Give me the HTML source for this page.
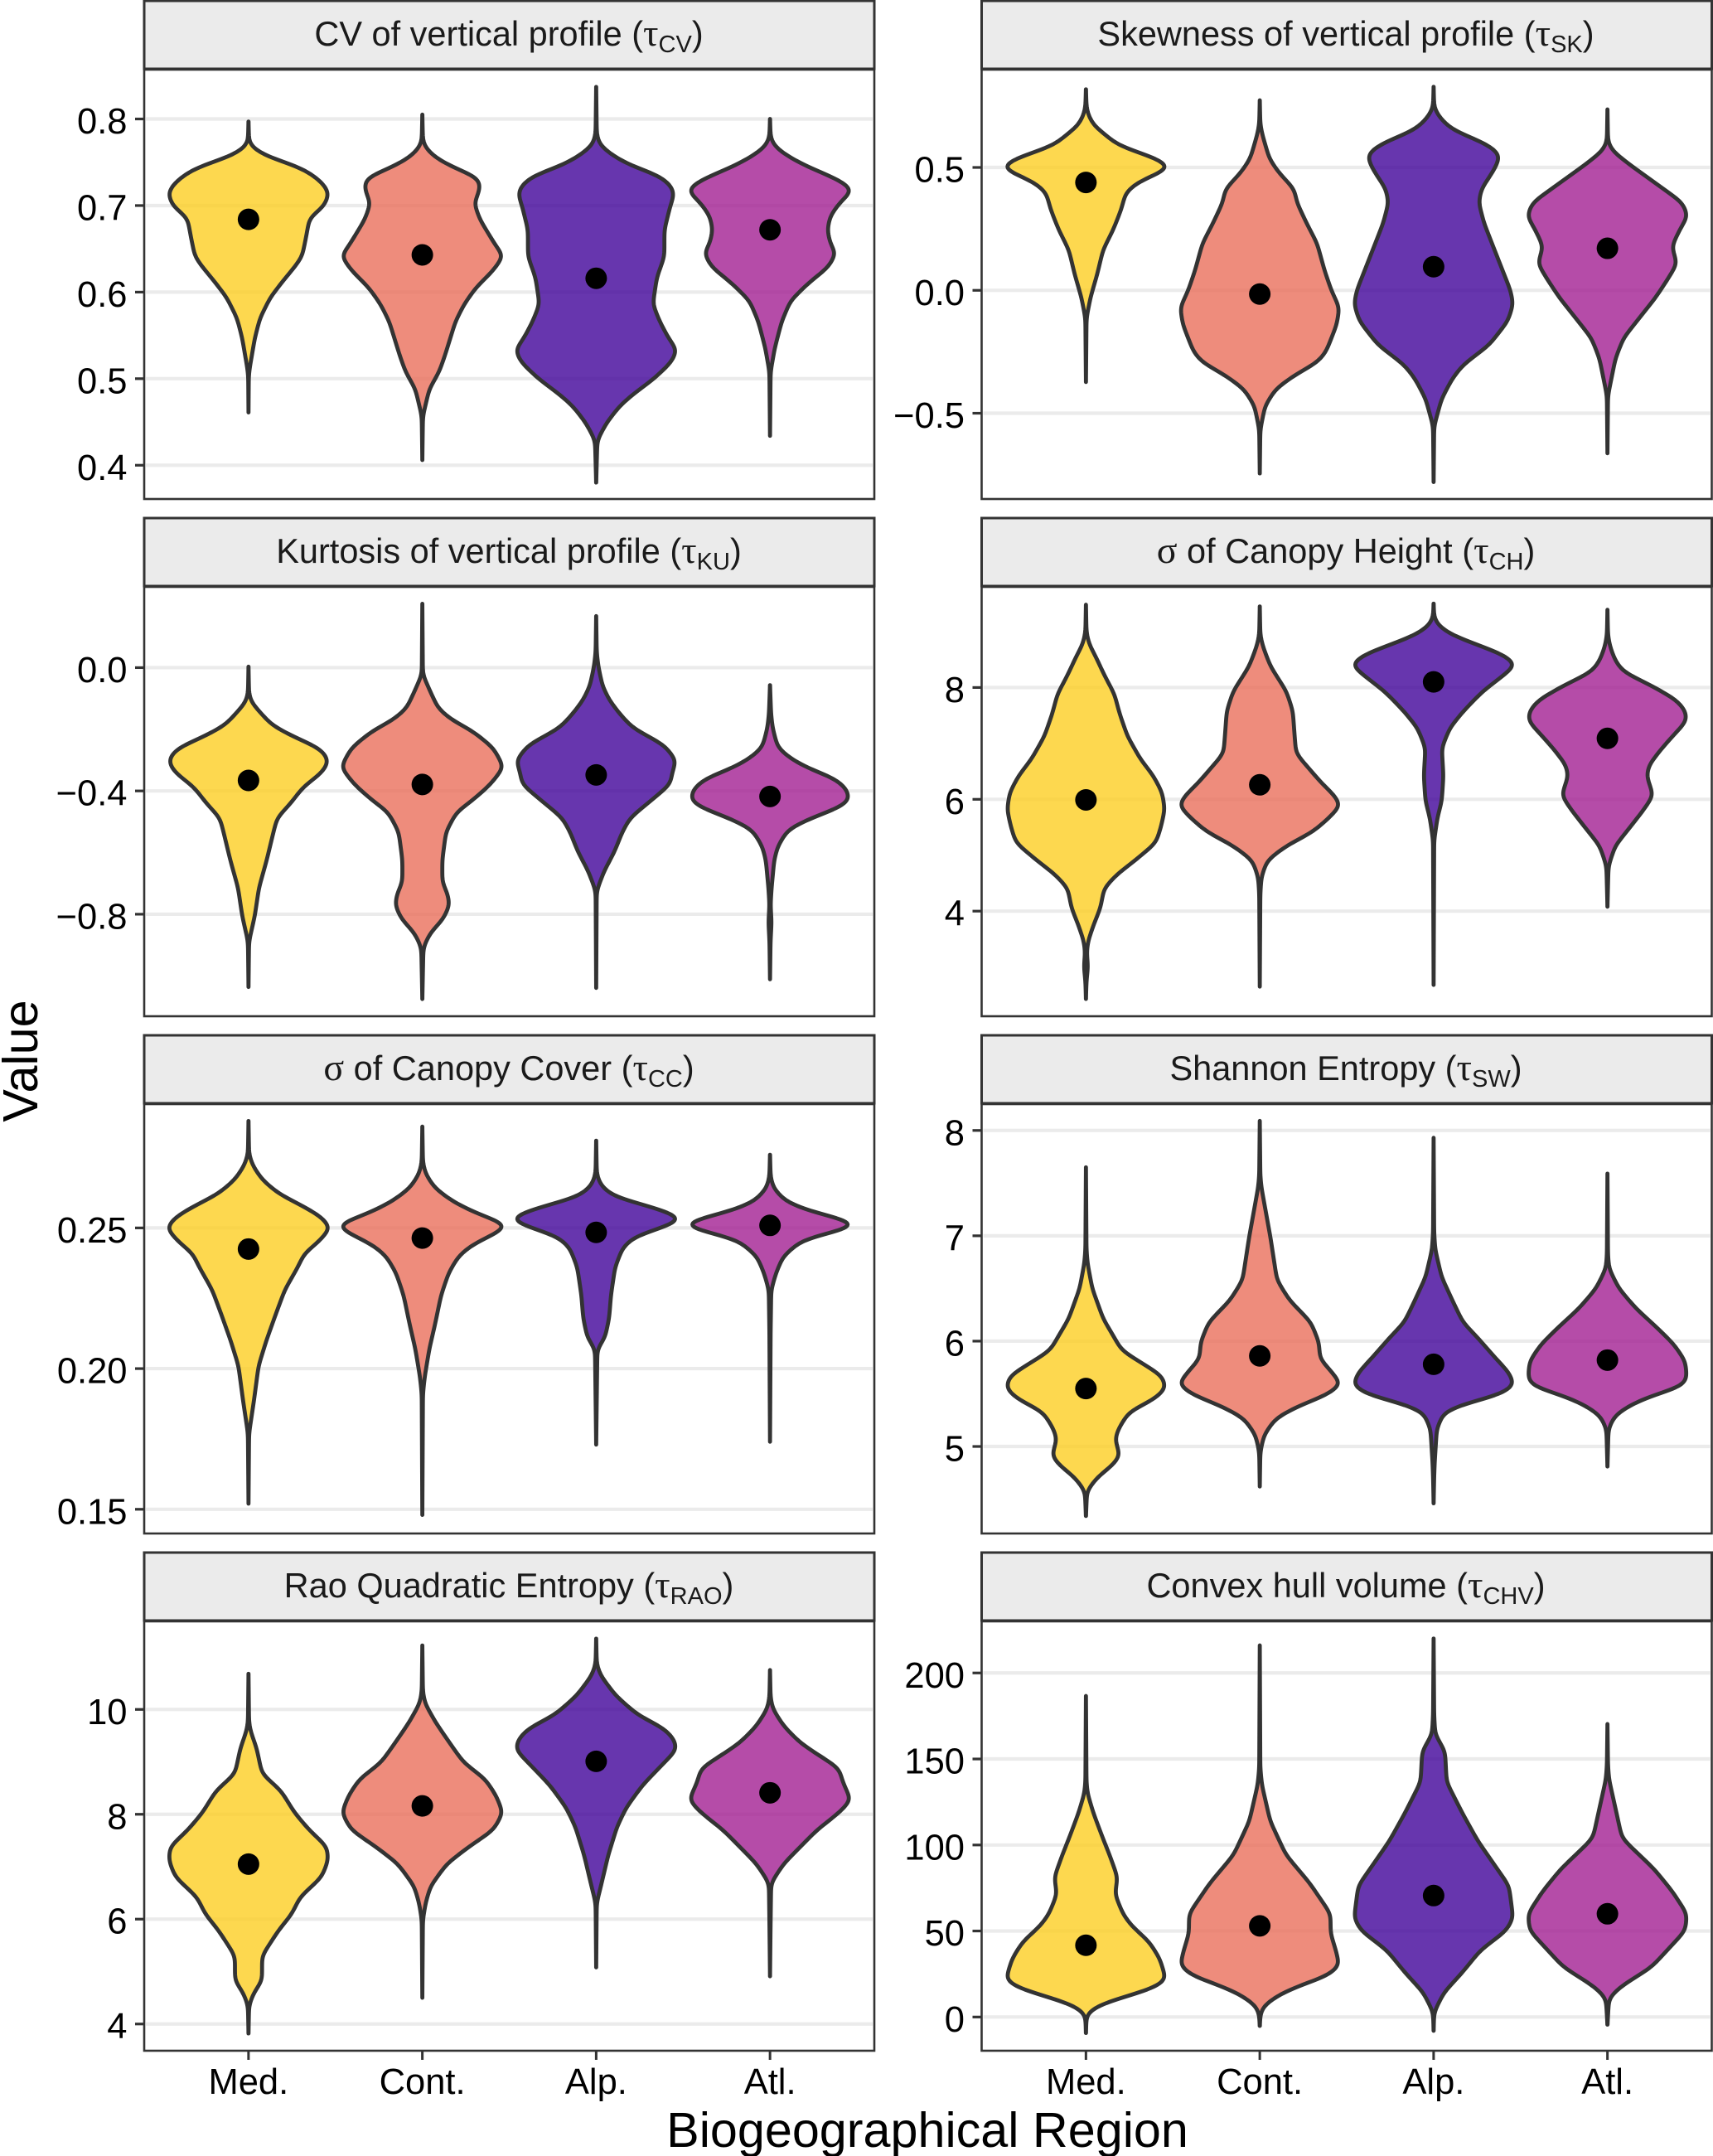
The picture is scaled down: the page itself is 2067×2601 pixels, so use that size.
<!DOCTYPE html>
<html>
<head>
<meta charset="utf-8">
<title>Biogeographical violin panels</title>
<style>
html,body{margin:0;padding:0;background:#fff;}
svg{display:block;font-family:"Liberation Sans",sans-serif;}
.strip-title{font-size:41.5px;text-anchor:middle;fill:#1a1a1a;}
.sym{font-family:"Liberation Serif",serif;font-size:46px;}
.sub{font-size:29px;}
</style>
</head>
<body>
<svg id="chart" xmlns="http://www.w3.org/2000/svg" width="2067" height="2601" viewBox="0 0 2067 2601">
  <rect x="0" y="0" width="2067" height="2601" fill="#fff"/>

  <g>
    <rect x="174" y="1" width="881" height="82" fill="#ebebeb" stroke="#333" stroke-width="3"/>
    <text class="strip-title" x="614" y="55">CV of vertical profile (<tspan class="sym">τ</tspan><tspan class="sub" dy="8">CV</tspan><tspan dy="-8">)</tspan></text>
  </g>
  <g>
    <rect x="1184.5" y="1" width="881" height="82" fill="#ebebeb" stroke="#333" stroke-width="3"/>
    <text class="strip-title" x="1624" y="55">Skewness of vertical profile (<tspan class="sym">τ</tspan><tspan class="sub" dy="8">SK</tspan><tspan dy="-8">)</tspan></text>
  </g>
  <g>
    <rect x="174" y="625" width="881" height="82" fill="#ebebeb" stroke="#333" stroke-width="3"/>
    <text class="strip-title" x="614" y="679">Kurtosis of vertical profile (<tspan class="sym">τ</tspan><tspan class="sub" dy="8">KU</tspan><tspan dy="-8">)</tspan></text>
  </g>
  <g>
    <rect x="1184.5" y="625" width="881" height="82" fill="#ebebeb" stroke="#333" stroke-width="3"/>
    <text class="strip-title" x="1624" y="679"><tspan class="sym">σ</tspan> of Canopy Height (<tspan class="sym">τ</tspan><tspan class="sub" dy="8">CH</tspan><tspan dy="-8">)</tspan></text>
  </g>
  <g>
    <rect x="174" y="1249" width="881" height="82" fill="#ebebeb" stroke="#333" stroke-width="3"/>
    <text class="strip-title" x="614" y="1303"><tspan class="sym">σ</tspan> of Canopy Cover (<tspan class="sym">τ</tspan><tspan class="sub" dy="8">CC</tspan><tspan dy="-8">)</tspan></text>
  </g>
  <g>
    <rect x="1184.5" y="1249" width="881" height="82" fill="#ebebeb" stroke="#333" stroke-width="3"/>
    <text class="strip-title" x="1624" y="1303">Shannon Entropy (<tspan class="sym">τ</tspan><tspan class="sub" dy="8">SW</tspan><tspan dy="-8">)</tspan></text>
  </g>
  <g>
    <rect x="174" y="1873" width="881" height="82" fill="#ebebeb" stroke="#333" stroke-width="3"/>
    <text class="strip-title" x="614" y="1927">Rao Quadratic Entropy (<tspan class="sym">τ</tspan><tspan class="sub" dy="8">RAO</tspan><tspan dy="-8">)</tspan></text>
  </g>
  <g>
    <rect x="1184.5" y="1873" width="881" height="82" fill="#ebebeb" stroke="#333" stroke-width="3"/>
    <text class="strip-title" x="1624" y="1927">Convex hull volume (<tspan class="sym">τ</tspan><tspan class="sub" dy="8">CHV</tspan><tspan dy="-8">)</tspan></text>
  </g>

  <text x="1119" y="2590" font-size="59.3" text-anchor="middle" fill="#000">Biogeographical Region</text>
  <text transform="translate(45 1280) rotate(-90)" font-size="59.3" text-anchor="middle" fill="#000">Value</text>
  <g id="panels"></g>
</svg>

<script>
const categories = ["Med.", "Cont.", "Alp.", "Atl."];
const regionColors = ["rgb(253,206,35)", "rgb(234,111,91)", "rgb(65,4,154)", "rgb(163,31,146)"];

/* ---------- CV of vertical profile ---------- */
const cvDomain = [0.361, 0.857];
const cvTicks = [0.4, 0.5, 0.6, 0.7, 0.8];
const cvTickLabels = ["0.4", "0.5", "0.6", "0.7", "0.8"];
const cvMeans = [0.684, 0.643, 0.616, 0.672];
const cvValues = [
  [.797,.772,.764,.756,.744,.735,.725,.714,.699,.686,.664,.641,.629,.613,.594,.570,.547,.512,.504,.461],
  [.805,.774,.766,.754,.742,.733,.723,.713,.703,.684,.664,.652,.642,.625,.605,.586,.566,.527,.508,.488,.457,.406],
  [.837,.782,.770,.758,.746,.735,.723,.713,.699,.672,.641,.617,.586,.566,.547,.533,.519,.500,.480,.468,.449,.429,.380],
  [.800,.778,.768,.758,.746,.735,.723,.716,.704,.688,.672,.656,.645,.629,.610,.590,.566,.535,.508,.434]
];
const cvDensity = [
  [0,1,12,35,90,112,130,140,131,106,100,93,80,60,38,20,11,2,.5,0],
  [0,1,6,25,60,95,100,96,89,99,117,128,140,122,92,72,57,39,29,12,1,0],
  [0,1,6,28,60,108,130,135,128,118,118,105,98,110,125,140,130,100,60,40,18,2,0],
  [0,1,8,28,60,100,135,140,120,103,98,103,113,100,65,35,20,8,1,0]
];

/* ---------- Skewness of vertical profile ---------- */
const skDomain = [-0.849, 0.898];
const skTicks = [-0.5, 0, 0.5];
const skTickLabels = ["\u22120.5", "0.0", "0.5"];
const skMeans = [0.439, -0.015, 0.096, 0.171];
const skValues = [
  [.818,.742,.708,.667,.632,.591,.563,.536,.500,.474,.439,.398,.329,.247,.164,.067,-.029,-.112,-.373],
  [.773,.674,.632,.536,.481,.412,.357,.274,.191,.081,-.001,-.070,-.139,-.249,-.291,-.346,-.401,-.470,-.566,-.745],
  [.828,.742,.701,.653,.605,.570,.543,.494,.412,.357,.274,.191,.081,-.001,-.056,-.125,-.222,-.304,-.360,-.442,-.552,-.780],
  [.736,.605,.570,.522,.467,.412,.357,.302,.247,.178,.109,.054,-.029,-.125,-.194,-.277,-.428,-.663]
];
const skDensity = [
  [0,1,5,15,35,55,90,125,150,125,90,70,62,48,30,20,8,1,0],
  [0,1,5,18,35,65,70,88,108,122,135,150,145,125,110,65,30,10,1,0],
  [0,1,12,35,90,118,125,115,90,85,95,110,130,145,150,140,105,55,35,15,1,0],
  [0,1,8,35,70,105,140,150,135,120,130,115,90,55,30,15,1,0]
];

/* ---------- Kurtosis of vertical profile ---------- */
const kuDomain = [-1.131, 0.262];
const kuTicks = [-0.8, -0.4, 0];
const kuTickLabels = ["\u22120.8", "\u22120.4", "0.0"];
const kuMeans = [-0.366, -0.379, -0.348, -0.418];
const kuValues = [
  [.003,-.087,-.114,-.150,-.187,-.223,-.260,-.287,-.310,-.342,-.387,-.442,-.487,-.533,-.624,-.715,-.806,-.888,-1.036],
  [.207,-.023,-.077,-.132,-.169,-.205,-.260,-.323,-.378,-.424,-.469,-.533,-.624,-.697,-.733,-.770,-.815,-.861,-.907,-1.075],
  [.167,.050,.005,-.059,-.105,-.150,-.196,-.251,-.301,-.342,-.378,-.424,-.487,-.533,-.597,-.661,-.724,-1.039],
  [-.057,-.150,-.196,-.260,-.296,-.328,-.360,-.396,-.433,-.456,-.487,-.524,-.579,-.624,-.715,-.770,-.825,-.888,-1.011]
];
const kuDensity = [
  [0,1,6,25,45,85,135,150,153,140,105,80,55,48,35,20,12,1,0],
  [0,1,15,30,55,95,135,155,130,100,65,45,38,38,48,52,40,15,2,0],
  [0,1,4,12,25,45,70,130,153,145,142,110,65,50,35,15,1,0],
  [0,2,5,15,40,75,125,148,152,130,80,35,15,8,3,1,3,1,0]
];

/* ---------- Canopy height ---------- */
const chDomain = [2.12, 9.80];
const chTicks = [4, 6, 8];
const chTickLabels = ["4", "6", "8"];
const chMeans = [5.99, 6.26, 8.10, 7.09];
const chValues = [
  [9.48,8.98,8.78,8.53,8.23,7.88,7.53,7.13,6.72,6.42,6.12,5.82,5.52,5.22,4.91,4.66,4.41,4.06,3.76,3.46,3.26,3.01,2.75,2.43],
  [9.45,8.93,8.73,8.38,7.93,7.58,7.18,6.82,6.52,6.27,6.07,5.89,5.67,5.42,5.17,4.91,4.61,4.31,2.65],
  [9.50,9.24,9.09,8.93,8.73,8.58,8.41,8.23,7.93,7.58,7.28,6.92,6.42,5.97,5.67,5.27,2.68],
  [9.39,8.93,8.73,8.48,8.28,8.03,7.78,7.58,7.40,7.18,6.92,6.62,6.42,6.07,5.82,5.52,5.17,4.81,4.46,4.08]
];
const chDensity = [
  [0,1,6,20,35,55,65,80,105,130,147,152,145,135,95,60,35,28,15,4,1.5,4,1,0],
  [0,1,6,20,50,62,65,68,95,118,140,152,130,100,50,14,3,1,0],
  [0,1,10,35,90,130,152,130,90,55,30,15,18,15,7,1,0],
  [0,1,5,15,30,85,132,150,152,130,105,80,75,88,70,45,15,2,1,0]
];

/* ---------- Canopy cover ---------- */
const ccDomain = [0.1414, 0.294];
const ccTicks = [0.15, 0.20, 0.25];
const ccTickLabels = ["0.15", "0.20", "0.25"];
const ccMeans = [0.2425, 0.2464, 0.2484, 0.2509];
const ccValues = [
  [.288,.276,.272,.267,.262,.258,.254,.250,.245,.241,.236,.228,.220,.210,.201,.189,.177,.152],
  [.286,.273,.269,.264,.259,.255,.252,.251,.248,.244,.240,.234,.226,.216,.207,.197,.191,.148],
  [.281,.269,.265,.261,.258,.255,.253,.250,.247,.243,.236,.226,.218,.211,.207,.173],
  [.276,.268,.264,.259,.255,.253,.251,.249,.246,.240,.234,.228,.213,.174]
];
const ccDensity = [
  [0,1,8,25,55,95,130,147,125,100,88,65,50,32,18,10,1,0],
  [0,1,6,22,55,95,135,148,125,85,62,45,32,22,12,4,1,0],
  [0,1,8,30,85,130,148,110,65,45,32,25,22,15,2,0],
  [0,1,6,28,80,125,147,115,55,22,10,2,1,0]
];

/* ---------- Shannon entropy ---------- */
const swDomain = [4.174, 8.25];
const swTicks = [5, 6, 7, 8];
const swTickLabels = ["5", "6", "7", "8"];
const swMeans = [5.55, 5.86, 5.78, 5.82];
const swValues = [
  [7.65,6.87,6.74,6.50,6.21,6.05,5.91,5.78,5.67,5.55,5.45,5.33,5.17,5.07,4.91,4.82,4.71,4.58,4.34],
  [8.09,7.57,7.46,6.98,6.58,6.39,6.18,5.99,5.83,5.73,5.59,5.49,5.38,5.27,5.11,4.95,4.62],
  [7.93,7.03,6.87,6.61,6.39,6.18,6.02,5.83,5.70,5.58,5.49,5.41,5.33,5.17,4.85,4.71,4.46],
  [7.59,6.82,6.69,6.50,6.31,6.13,5.97,5.81,5.65,5.57,5.49,5.41,5.30,5.17,4.81]
];
const swDensity = [
  [0,1,3,12,33,52,68,110,145,152,130,82,62,55,65,50,22,2,0],
  [0,1,3,20,32,55,95,110,112,130,152,125,70,30,8,1,0],
  [0,1,3,15,35,55,85,118,142,152,125,60,20,6,2,1,0],
  [0,1,3,22,55,95,128,150,153,145,90,50,15,2,0]
];

/* ---------- Rao quadratic entropy ---------- */
const raoDomain = [3.49, 11.68];
const raoTicks = [4, 6, 8, 10];
const raoTickLabels = ["4", "6", "8", "10"];
const raoMeans = [7.05, 8.16, 9.01, 8.41];
const raoValues = [
  [10.68,9.74,9.58,9.26,8.77,8.45,8.03,7.70,7.38,7.12,6.80,6.42,6.10,5.78,5.30,4.82,4.60,4.36,3.82],
  [11.22,10.33,10.11,9.74,9.36,8.99,8.67,8.35,8.03,7.70,7.38,7.06,6.63,6.31,5.99,4.50],
  [11.35,10.86,10.65,10.27,9.90,9.63,9.42,9.23,8.94,8.56,8.13,7.76,7.22,6.69,6.31,5.08],
  [10.75,10.22,10.01,9.68,9.36,9.15,8.88,8.61,8.27,8.03,7.70,7.38,7.06,6.69,5.89,4.91]
];
const raoDensity = [
  [0,1,4,15,25,60,85,112,145,147,135,95,80,55,25,25,10,1,0],
  [0,1,5,25,50,75,115,135,147,130,85,45,15,6,1,0],
  [0,1,8,35,75,125,143,147,120,85,55,38,22,10,1,0],
  [0,1,5,25,55,85,125,132,147,125,85,55,25,2,1,0]
];

/* ---------- Convex hull volume ---------- */
const chvDomain = [-19.6, 230];
const chvTicks = [0, 50, 100, 150, 200];
const chvTickLabels = ["0", "50", "100", "150", "200"];
const chvMeans = [41.7, 53, 70.6, 60];
const chvValues = [
  [186.6,136.6,130,118.7,105.6,94,81.2,71.4,60,53.5,43.7,33.9,21.7,17.6,12.7,7.8,2.9,.5,-9.3],
  [216,144.7,135,113.8,94.2,77.9,60,48.6,38.8,29.8,24,17.6,12.7,6.2,1.3,-5.2],
  [220,175.7,164.3,154.5,136.6,118.7,102.4,89.3,76.3,57.5,50.2,38.8,25.8,14.3,2.9,-8],
  [170.3,146.4,138.2,121.9,104,97.5,86,73,60,50.2,38.8,29,17.6,11.1,-4.4]
];
const chvDensity = [
  [0,1,3,14,30,45,60,55,70,85,120,140,152,135,85,30,4,1,0],
  [0,1,4,20,50,95,135,135,145,152,130,70,35,6,1,0],
  [0,1,3,22,25,55,85,115,145,153,140,90,55,20,1,0],
  [0,1,3,15,28,50,90,125,153,150,115,85,25,3,0]
];

const panels = [
  {id:"cv",  col:0, row:0, domain:cvDomain,  ticks:cvTicks,  labels:cvTickLabels,  means:cvMeans,  values:cvValues,  density:cvDensity,  densityPerCategory:308},
  {id:"sk",  col:1, row:0, domain:skDomain,  ticks:skTicks,  labels:skTickLabels,  means:skMeans,  values:skValues,  density:skDensity,  densityPerCategory:331},
  {id:"ku",  col:0, row:1, domain:kuDomain,  ticks:kuTicks,  labels:kuTickLabels,  means:kuMeans,  values:kuValues,  density:kuDensity,  densityPerCategory:339.5},
  {id:"ch",  col:1, row:1, domain:chDomain,  ticks:chTicks,  labels:chTickLabels,  means:chMeans,  values:chValues,  density:chDensity,  densityPerCategory:337.5},
  {id:"cc",  col:0, row:2, domain:ccDomain,  ticks:ccTicks,  labels:ccTickLabels,  means:ccMeans,  values:ccValues,  density:ccDensity,  densityPerCategory:323},
  {id:"sw",  col:1, row:2, domain:swDomain,  ticks:swTicks,  labels:swTickLabels,  means:swMeans,  values:swValues,  density:swDensity,  densityPerCategory:337.5},
  {id:"rao", col:0, row:3, domain:raoDomain, ticks:raoTicks, labels:raoTickLabels, means:raoMeans, values:raoValues, density:raoDensity, densityPerCategory:323},
  {id:"chv", col:1, row:3, domain:chvDomain, ticks:chvTicks, labels:chvTickLabels, means:chvMeans, values:chvValues, density:chvDensity, densityPerCategory:337.5}
];

const NS = "http://www.w3.org/2000/svg";
const root = document.getElementById("panels");
const PANEL_W = 881, PANEL_H = 518, ROW_STEP = 624, TOP0 = 84;
const COL_LEFT = [174, 1184.5];

function make(parent, tag, attrs) {
  const el = document.createElementNS(NS, tag);
  for (const k in attrs) el.setAttribute(k, attrs[k]);
  parent.appendChild(el);
  return el;
}

/* Resample the density on an even value grid and blur it with a small Gaussian kernel,
   then restore the peak height, so the outline is smooth like a kernel density estimate. */
function sampleOutline(vals, dens, unitsPerPixel) {
  const n = vals.length, step = unitsPerPixel * 1.5, sigma = unitsPerPixel * 5.5;
  const hi = vals[0], lo = vals[n - 1];
  const count = Math.ceil((hi - lo) / step) + 1;
  const raw = [];
  let seg = 0, rawMax = 0;
  for (let j = 0; j < count; j++) {
    const v = Math.max(lo, hi - j * step);
    while (seg < n - 2 && v < vals[seg + 1]) seg++;
    const t = (vals[seg] - v) / (vals[seg] - vals[seg + 1]);
    const d = dens[seg] + t * (dens[seg + 1] - dens[seg]);
    raw.push(d);
    if (d > rawMax) rawMax = d;
  }
  const reach = Math.ceil(3 * sigma / step), kernel = [];
  for (let k = -reach; k <= reach; k++) kernel.push(Math.exp(-0.5 * Math.pow(k * step / sigma, 2)));
  const total = kernel.reduce(function (a, b) { return a + b; }, 0);
  const smooth = [];
  let smoothMax = 0;
  for (let j = 0; j < count; j++) {
    let s = 0;
    for (let k = -reach; k <= reach; k++) {
      const idx = j + k;
      if (idx >= 0 && idx < count) s += raw[idx] * kernel[k + reach];
    }
    s /= total;
    smooth.push(s);
    if (s > smoothMax) smoothMax = s;
  }
  const gain = smoothMax > 0 ? rawMax / smoothMax : 1;
  const out = [];
  for (let j = 0; j < count; j++) {
    out.push([Math.max(lo, hi - j * step), smooth[j] * gain]);
  }
  return out;
}

panels.forEach(function (p) {
  const left = COL_LEFT[p.col], top = TOP0 + p.row * ROW_STEP, bottom = top + PANEL_H;
  const right = left + PANEL_W;
  const unitsPerPixel = (p.domain[1] - p.domain[0]) / PANEL_H;
  const xScale = function (pos) { return left + (pos - 0.4) / 4.2 * PANEL_W; };
  const yScale = function (v) { return bottom - (v - p.domain[0]) / (p.domain[1] - p.domain[0]) * PANEL_H; };

  const g = make(root, "g", {});
  
  

  p.ticks.forEach(function (t, i) {
    const y = yScale(t);
    const grid = make(g, "line", {x1: left + 2, x2: right - 2, y1: y, y2: y, stroke: "#ebebeb", "stroke-width": 4.2});
    
    
    const tick = make(g, "line", {x1: left - 11, x2: left, y1: y, y2: y, stroke: "#333", "stroke-width": 3.2});
    
    
    const label = make(g, "text", {x: left - 20.5, y: y + 17.5, "font-size": 43.5, "text-anchor": "end", fill: "#000"});
    label.textContent = p.labels[i];
    
    
  });

  categories.forEach(function (cat, c) {
    const cx = c + 1;
    const pts = sampleOutline(p.values[c], p.density[c], unitsPerPixel);
    let d = "";
    pts.forEach(function (q, i) {
      d += (i ? "L" : "M") + xScale(cx + q[1] / p.densityPerCategory).toFixed(2) + " " + yScale(q[0]).toFixed(2);
    });
    for (let i = pts.length - 1; i >= 0; i--) {
      d += "L" + xScale(cx - pts[i][1] / p.densityPerCategory).toFixed(2) + " " + yScale(pts[i][0]).toFixed(2);
    }
    const violin = make(g, "path", {d: d + "Z", fill: regionColors[c], "fill-opacity": 0.8, stroke: "#333", "stroke-width": 4.8, "stroke-linejoin": "round"});
    
    
  });

  p.means.forEach(function (m, c) {
    const dot = make(g, "circle", {cx: xScale(c + 1), cy: yScale(m), r: 13, fill: "#000"});
    
    
  });

  const border = make(g, "rect", {x: left, y: top, width: PANEL_W, height: PANEL_H, fill: "none", stroke: "#333", "stroke-width": 2.6});
  
  

  if (p.row === 3) {
    categories.forEach(function (cat, c) {
      const x = xScale(c + 1);
      const tick = make(g, "line", {x1: x, x2: x, y1: bottom, y2: bottom + 11, stroke: "#333", "stroke-width": 3});
      
      
      const label = make(g, "text", {x: x, y: 2526, "font-size": 43.5, "text-anchor": "middle", fill: "#000"});
      label.textContent = cat;
      
      
    });
  }
});
</script>
</body>
</html>
